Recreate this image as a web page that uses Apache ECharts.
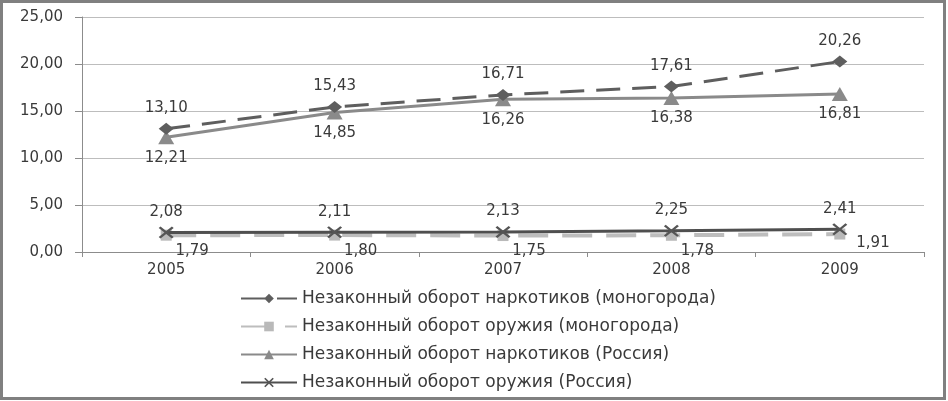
<!DOCTYPE html>
<html>
<head>
<meta charset="utf-8">
<script src="https://cdn.jsdelivr.net/npm/echarts@6/dist/echarts.min.js"></script>
<style>
  html, body { margin: 0; padding: 0; background: #fff; }
  #chart { position: absolute; left: 0; top: 0; width: 948px; height: 401px; }
  #frame { position: absolute; left: 0; top: 0; width: 946px; height: 400px; box-sizing: border-box;
           border: 3px solid #808080; pointer-events: none; }
</style>
</head>
<body>
<div id="chart"></div>
<div id="frame"></div>
<script>
var years = ["2005", "2006", "2007", "2008", "2009"];
var narcoMono = [13.10, 15.43, 16.71, 17.61, 20.26];
var weaponMono = [1.79, 1.80, 1.75, 1.78, 1.91];
var narcoRus = [12.21, 14.85, 16.26, 16.38, 16.81];
var weaponRus = [2.08, 2.11, 2.13, 2.25, 2.41];
var names = [
  "Незаконный оборот наркотиков (моногорода)",
  "Незаконный оборот оружия (моногорода)",
  "Незаконный оборот наркотиков (Россия)",
  "Незаконный оборот оружия (Россия)"
];

var FONT = "DejaVu Sans";
var xMark = "path://M0,1.2L1.2,0L5,3.8L8.8,0L10,1.2L6.2,5L10,8.8L8.8,10L5,6.2L1.2,10L0,8.8L3.8,5Z";

function fmt(v) {
  return Number(v).toFixed(2).replace(".", ",");
}

var labelBase = { show: true, fontFamily: FONT, fontSize: 15, color: "#3a3a3a", formatter: function (p) { return fmt(p.value); } };

// weapon (monogoroda) labels sit below-right of the point, last one to the right
var weaponMonoData = weaponMono.map(function (v, i) {
  if (i === weaponMono.length - 1) {
    return { value: v, label: { position: "right", offset: [8, 9] } };
  }
  return v;
});

var chart = echarts.init(document.getElementById("chart"));
chart.setOption({
  animation: false,
  grid: { left: 82, right: 24, top: 17, bottom: 149 },
  legend: {
    orient: "vertical",
    left: 235,
    top: 285,
    itemWidth: 56,
    itemHeight: 12,
    itemGap: 11,
    textStyle: { fontFamily: FONT, fontSize: 17, color: "#3a3a3a" },
    data: names
  },
  xAxis: {
    type: "category",
    data: years,
    boundaryGap: true,
    axisLine: { lineStyle: { color: "#8c8c8c", width: 1 } },
    axisTick: { show: true, length: 5, lineStyle: { color: "#8c8c8c" } },
    axisLabel: { fontFamily: FONT, fontSize: 15, color: "#3a3a3a", margin: 11 }
  },
  yAxis: {
    type: "value",
    min: 0,
    max: 25,
    interval: 5,
    axisLine: { show: true, lineStyle: { color: "#8c8c8c" } },
    axisTick: { show: true, length: 7, lineStyle: { color: "#8c8c8c" } },
    axisLabel: { fontFamily: FONT, fontSize: 15, color: "#3a3a3a", margin: 19, formatter: fmt },
    splitLine: { lineStyle: { color: "#bdbdbd" } }
  },
  series: [
    {
      name: names[0],
      type: "line",
      data: narcoMono,
      symbol: "diamond",
      symbolSize: [15, 12],
      itemStyle: { color: "#5e5e5e" },
      lineStyle: { color: "#5e5e5e", width: 3, type: [24, 12] },
      label: Object.assign({}, labelBase, { position: "top", distance: 7 }),
      z: 4
    },
    {
      name: names[1],
      type: "line",
      data: weaponMonoData,
      symbol: "rect",
      symbolSize: 11,
      itemStyle: { color: "#b9b9b9" },
      lineStyle: { color: "#bdbdbd", width: 4, type: [30, 14] },
      label: Object.assign({}, labelBase, { position: "bottom", distance: 3, offset: [26, 0] }),
      z: 2
    },
    {
      name: names[2],
      type: "line",
      data: narcoRus,
      symbol: "triangle",
      symbolSize: [16, 14],
      itemStyle: { color: "#8a8a8a" },
      lineStyle: { color: "#8a8a8a", width: 3 },
      label: Object.assign({}, labelBase, { position: "bottom", distance: 6 }),
      z: 3
    },
    {
      name: names[3],
      type: "line",
      data: weaponRus,
      symbol: xMark,
      symbolSize: [15, 12],
      itemStyle: { color: "#555555" },
      lineStyle: { color: "#4f4f4f", width: 3 },
      label: Object.assign({}, labelBase, { position: "top", distance: 7 }),
      z: 5
    }
  ]
});
</script>
</body>
</html>
